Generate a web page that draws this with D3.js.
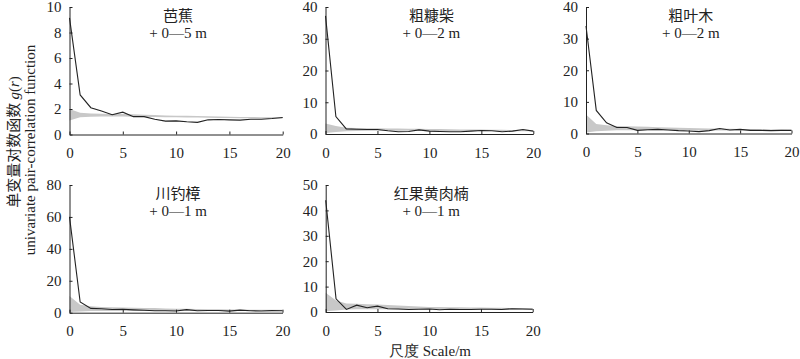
<!DOCTYPE html>
<html>
<head>
<meta charset="utf-8">
<script src="https://cdn.jsdelivr.net/npm/d3@7"></script>
<style>
  body { margin: 0; background: #fff; }
  svg { display: block; }
  .tick text { font-family: "Liberation Serif", "DejaVu Serif", serif; font-size: 15px; fill: #222; }
  .domain, .tick line { stroke: #222; stroke-width: 1; }
</style>
</head>
<body>
<div id="chart"></div>
<script>
// scale r (m)
const scales = d3.range(0, 21);

// species names and distance-class labels
const species = ["芭蕉", "粗糠柴", "粗叶木", "川钓樟", "红果黄肉楠"];
const classes = ["+ 0—5 m", "+ 0—2 m", "+ 0—2 m", "+ 0—1 m", "+ 0—1 m"];

// y-axis max and tick labels per panel
const yMax = [10, 40, 40, 80, 50];
const yTicks = [
  [0, 2, 4, 6, 8, 10],
  [0, 10, 20, 30, 40],
  [0, 10, 20, 30, 40],
  [0, 20, 40, 60, 80],
  [0, 10, 20, 30, 40, 50]
];
const xTicks = [0, 5, 10, 15, 20];

// observed g(r)
const gBajiao   = [9.15, 3.1, 2.1, 1.85, 1.55, 1.75, 1.4, 1.4, 1.2, 1.05, 1.07, 1.0, 0.95, 1.15, 1.18, 1.15, 1.13, 1.2, 1.2, 1.25, 1.33];
const gCukangchai = [37.2, 5.5, 1.6, 1.5, 1.4, 1.4, 1.0, 0.7, 0.8, 1.3, 0.9, 0.8, 0.7, 0.7, 0.9, 1.1, 1.0, 0.7, 0.9, 1.4, 0.9];
const gCuyemu   = [34, 7.3, 3.4, 1.9, 1.9, 1.0, 1.2, 1.3, 1.1, 0.9, 0.8, 0.6, 0.9, 1.6, 1.1, 1.3, 1.0, 1.0, 0.9, 1.0, 1.0];
const gChuandiaozhang = [60, 6.7, 2.7, 2.5, 2.0, 2.2, 1.8, 1.5, 1.2, 1.2, 1.1, 1.9, 1.2, 1.4, 1.4, 1.0, 1.6, 1.2, 1.1, 1.3, 1.2];
const gHongguo   = [44, 5.2, 1.0, 2.7, 1.7, 2.3, 1.3, 1.2, 1.0, 1.1, 1.2, 0.9, 1.1, 1.0, 1.0, 1.1, 1.1, 1.0, 1.3, 1.2, 1.1];

// simulation envelope upper / lower
const upBajiao = [2.0, 1.7, 1.65, 1.62, 1.6, 1.6, 1.58, 1.55, 1.52, 1.5, 1.48, 1.47, 1.45, 1.43, 1.42, 1.4, 1.38, 1.37, 1.36, 1.35, 1.35];
const loBajiao = [1.1, 1.35, 1.4, 1.42, 1.42, 1.42, 1.4, 1.38, 1.37, 1.36, 1.35, 1.34, 1.33, 1.32, 1.3, 1.3, 1.28, 1.27, 1.26, 1.25, 1.25];
const upCukangchai = [3.3, 2.5, 2.0, 1.9, 1.85, 1.8, 1.75, 1.7, 1.65, 1.62, 1.6, 1.55, 1.5, 1.45, 1.4, 1.38, 1.35, 1.3, 1.27, 1.23, 1.2];
const loCukangchai = [0.3, 0.6, 0.9, 0.95, 1.0, 1.0, 1.0, 1.0, 1.0, 1.0, 1.0, 0.98, 0.97, 0.95, 0.95, 0.93, 0.92, 0.92, 0.9, 0.9, 0.9];
const upCuyemu = [6.0, 3.0, 2.6, 2.4, 2.3, 2.2, 2.1, 2.0, 1.9, 1.8, 1.7, 1.65, 1.6, 1.55, 1.5, 1.45, 1.4, 1.35, 1.3, 1.25, 1.2];
const loCuyemu = [0.3, 0.7, 0.9, 1.0, 1.0, 1.0, 1.0, 1.0, 1.0, 1.0, 1.0, 0.98, 0.97, 0.95, 0.95, 0.93, 0.92, 0.92, 0.9, 0.9, 0.9];
const upChuandiaozhang = [10.5, 5.0, 4.0, 3.6, 3.4, 3.2, 3.1, 3.0, 2.9, 2.7, 2.5, 2.4, 2.3, 2.2, 2.1, 2.0, 2.0, 1.9, 1.9, 1.8, 1.8];
const loChuandiaozhang = [0.5, 0.7, 1.0, 1.0, 1.0, 1.0, 1.0, 1.0, 1.0, 1.0, 1.0, 1.0, 1.0, 1.0, 1.0, 1.0, 1.0, 1.0, 1.0, 1.0, 1.0];
const upHongguo = [7.6, 4.5, 3.3, 3.2, 3.1, 3.0, 2.8, 2.6, 2.4, 2.2, 2.0, 1.95, 1.9, 1.85, 1.8, 1.75, 1.7, 1.65, 1.6, 1.55, 1.5];
const loHongguo = [0.3, 0.6, 1.0, 1.05, 1.1, 1.1, 1.1, 1.1, 1.1, 1.05, 1.05, 1.0, 1.0, 1.0, 1.0, 1.0, 1.0, 1.0, 1.0, 1.0, 1.0];

const observed = [gBajiao, gCukangchai, gCuyemu, gChuandiaozhang, gHongguo];
const upper = [upBajiao, upCukangchai, upCuyemu, upChuandiaozhang, upHongguo];
const lower = [loBajiao, loCukangchai, loCuyemu, loChuandiaozhang, loHongguo];

// panel frames (plot area in page pixels)
const panels = [
  { x0: 69.5, x1: 282.7, y0: 7, y1: 134.5 },
  { x0: 325.5, x1: 533.3, y0: 7, y1: 134 },
  { x0: 586, x1: 791.5, y0: 7, y1: 133.5 },
  { x0: 69.5, x1: 282.5, y0: 185, y1: 312.7 },
  { x0: 325.7, x1: 532.7, y0: 185, y1: 312 }
];

const svg = d3.select("#chart")
  .append("svg")
  .attr("width", 800)
  .attr("height", 359);

const serif = '"Liberation Serif", "DejaVu Serif", serif';
const cjk = '"Noto Sans CJK SC", sans-serif';

panels.forEach(function(p, i) {
  const g = svg.append("g");

  const xScale = d3.scaleLinear().domain([0, 20]).range([p.x0, p.x1]);
  const yScale = d3.scaleLinear().domain([0, yMax[i]]).range([p.y1, p.y0]);

  // envelope
  const area = d3.area()
    .x(function(d, k) { return xScale(scales[k]); })
    .y0(function(d, k) { return yScale(lower[i][k]); })
    .y1(function(d) { return yScale(d); });
  g.append("path")
    .datum(upper[i])
    .attr("fill", "#c8c8c8")
    .attr("d", area);

  // observed line
  const line = d3.line()
    .x(function(d, k) { return xScale(scales[k]); })
    .y(function(d) { return yScale(d); });
  g.append("path")
    .datum(observed[i])
    .attr("fill", "none")
    .attr("stroke", "#222")
    .attr("stroke-width", 1.1)
    .attr("d", line);

  // axes
  g.append("g")
    .attr("transform", `translate(0,${p.y1})`)
    .call(d3.axisBottom(xScale).tickValues(xTicks).tickSizeInner(-3).tickSizeOuter(0).tickPadding(13));
  g.append("g")
    .attr("transform", `translate(${p.x0},0)`)
    .call(d3.axisLeft(yScale).tickValues(yTicks[i]).tickSizeInner(-3).tickSizeOuter(0).tickPadding(8));

  // title
  const cx = (p.x0 + p.x1) / 2 + 2;
  g.append("text")
    .attr("x", cx)
    .attr("y", p.y0 + 14)
    .attr("text-anchor", "middle")
    .style("font-family", cjk)
    .style("font-size", "15px")
    .style("fill", "#222")
    .text(species[i]);
  g.append("text")
    .attr("x", cx)
    .attr("y", p.y0 + 31)
    .attr("text-anchor", "middle")
    .style("font-family", serif)
    .style("font-size", "15px")
    .style("fill", "#222")
    .text(classes[i]);
});

// y axis labels
const yLab1 = svg.append("text")
  .attr("transform", "translate(19,142) rotate(-90)")
  .attr("text-anchor", "middle")
  .style("font-family", cjk)
  .style("font-size", "15px")
  .style("fill", "#222");
yLab1.append("tspan").text("单变量对数函数 ");
yLab1.append("tspan").style("font-family", serif).style("font-style", "italic").text("g");
yLab1.append("tspan").style("font-family", serif).text("(");
yLab1.append("tspan").style("font-family", serif).style("font-style", "italic").text("r");
yLab1.append("tspan").style("font-family", serif).text(")");

svg.append("text")
  .attr("transform", "translate(35,150) rotate(-90)")
  .attr("text-anchor", "middle")
  .style("font-family", serif)
  .style("font-size", "15px")
  .style("fill", "#222")
  .text("univariate pair-correlation function");

// x axis label
svg.append("text")
  .attr("x", 430)
  .attr("y", 356)
  .attr("text-anchor", "middle")
  .style("font-family", serif)
  .style("font-size", "15px")
  .style("fill", "#222")
  .text("尺度 Scale/m");
</script>
</body>
</html>
